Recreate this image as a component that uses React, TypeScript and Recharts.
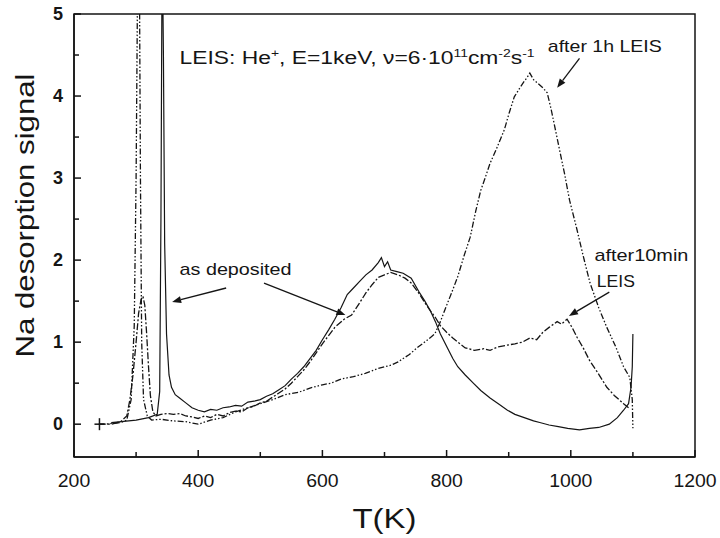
import React from 'react'
import { LineChart, Line, XAxis, YAxis, ReferenceArea, ReferenceLine, ReferenceDot } from 'recharts'

// T (K), Na desorption signal
const asDeposited: [number, number][] = [
  [260, 0.02], [300, 0.05], [320, 0.08], [334, 0.12], [338, 0.4], [340, 2.5], [342, 6], [344, 4.5], [346, 2.2],
  [349, 1.1], [353, 0.6], [357, 0.45], [363, 0.36], [370, 0.32], [380, 0.26], [390, 0.2], [400, 0.17], [410, 0.15],
  [420, 0.18], [430, 0.17], [440, 0.2], [450, 0.21], [460, 0.23], [470, 0.22], [480, 0.27], [490, 0.28], [500, 0.3],
  [510, 0.34], [520, 0.37], [530, 0.42], [540, 0.47], [550, 0.55], [560, 0.62], [570, 0.7], [580, 0.8], [590, 0.9],
  [600, 1.03], [610, 1.15], [620, 1.28], [630, 1.42], [640, 1.58], [650, 1.66], [660, 1.74], [670, 1.82], [680, 1.88],
  [690, 1.97], [695, 2.03], [700, 1.92], [705, 1.98], [710, 1.88], [720, 1.86], [730, 1.84], [743, 1.78], [755, 1.62],
  [765, 1.5], [774, 1.38], [782, 1.25], [790, 1.1], [802, 0.92], [810, 0.8], [818, 0.7], [830, 0.6], [843, 0.5],
  [855, 0.41], [870, 0.32], [885, 0.24], [898, 0.17], [910, 0.12], [925, 0.08], [940, 0.04], [950, 0.02], [965, -0.01],
  [980, -0.03], [995, -0.05], [1014, -0.07], [1030, -0.05], [1045, -0.04], [1062, 0], [1075, 0.08], [1085, 0.17],
  [1093, 0.25], [1097, 0.45], [1099, 0.7], [1100, 1.1],
]

const after10min: [number, number][] = [
  [240, 0], [260, 0], [275, 0.03], [285, 0.1], [290, 0.3], [295, 0.6], [300, 1.0], [304, 1.35], [308, 1.52], [311, 1.56],
  [314, 1.45], [317, 1.1], [320, 0.7], [323, 0.35], [327, 0.15], [332, 0.1], [340, 0.12], [350, 0.13], [360, 0.12],
  [370, 0.13], [380, 0.1], [390, 0.09], [400, 0.07], [410, 0.1], [420, 0.08], [430, 0.12], [440, 0.1], [450, 0.14],
  [460, 0.16], [470, 0.15], [480, 0.2], [490, 0.22], [500, 0.26], [510, 0.28], [520, 0.33], [530, 0.38], [540, 0.43],
  [550, 0.5], [560, 0.58], [570, 0.66], [580, 0.76], [590, 0.87], [600, 0.98], [610, 1.08], [620, 1.18], [635, 1.28],
  [647, 1.33], [660, 1.48], [670, 1.6], [680, 1.7], [690, 1.79], [700, 1.82], [710, 1.85], [722, 1.82], [733, 1.78],
  [743, 1.72], [755, 1.6], [765, 1.48], [774, 1.38], [782, 1.3], [790, 1.2], [800, 1.12], [810, 1.05], [818, 1.0],
  [830, 0.93], [845, 0.9], [860, 0.92], [870, 0.9], [882, 0.94], [895, 0.96], [910, 0.98], [922, 1.0], [934, 1.05],
  [945, 1.03], [955, 1.12], [965, 1.18], [978, 1.25], [985, 1.22], [994, 1.28], [1002, 1.18], [1010, 1.06], [1020, 0.93],
  [1030, 0.78], [1044, 0.62], [1058, 0.45], [1070, 0.35], [1085, 0.25], [1093, 0.2],
]

const after1h: [number, number][] = [
  [240, 0], [250, 0], [262, 0.01], [275, 0.02], [285, 0.05], [292, 0.3], [297, 1.2], [300, 3.0], [303, 6], [305, 6],
  [307, 3.0], [309, 1.0], [312, 0.3], [318, 0.1], [325, 0.05], [340, 0.06], [360, 0.04], [380, 0.03],
  [400, 0.0], [420, 0.05], [440, 0.08], [460, 0.15], [480, 0.2], [500, 0.25], [520, 0.3], [540, 0.36], [562, 0.39],
  [580, 0.44], [600, 0.48], [614, 0.5], [630, 0.55], [650, 0.58], [669, 0.62], [690, 0.68], [711, 0.72], [722, 0.76],
  [740, 0.85], [754, 0.94], [768, 1.02], [781, 1.1], [790, 1.25], [797, 1.39], [808, 1.6], [818, 1.8], [828, 2.05],
  [838, 2.28], [847, 2.6], [855, 2.85], [862, 3.0], [870, 3.18], [880, 3.35], [893, 3.59], [901, 3.8], [909, 3.99],
  [918, 4.1], [925, 4.18], [930, 4.23], [934, 4.28], [940, 4.2], [946, 4.16], [955, 4.1], [962, 4.04], [968, 3.85],
  [973, 3.67], [982, 3.34], [990, 3.05], [998, 2.73], [1010, 2.37], [1020, 2.05], [1031, 1.72], [1045, 1.42],
  [1058, 1.18], [1072, 0.95], [1085, 0.7], [1095, 0.57], [1099, 0.3], [1100, -0.05],
]

const xTicks = [200, 300, 400, 500, 600, 700, 800, 900, 1000, 1100, 1200]
const yTicks = [0, 0.5, 1, 1.5, 2, 2.5, 3, 3.5, 4, 4.5, 5]

// annotation arrows: [fromT, fromV, tipT, tipV]
const arrows: [number, number, number, number][] = [
  [1014, 4.46, 978, 4.1],
  [445, 1.66, 358, 1.49],
  [506, 1.72, 637, 1.33],
  [1062, 1.61, 997, 1.32],
]

const toPts = (d: [number, number][]) => d.map(([T, v]) => ({ T, v }))

const ink = '#151515'
const font = '"Liberation Sans", Arial, sans-serif'

const XTick = (p: any) => {
  const major = p.payload.value % 200 === 0
  const s = String(p.payload.value)
  return (
    <g>
      <line x1={p.x} x2={p.x} y1={p.y} y2={p.y - (major ? 7 : 5)} stroke={ink} strokeWidth={1.5} />
      {major && (
        <text
          x={p.x}
          y={p.y + 30}
          textAnchor="middle"
          fontSize={18}
          textLength={s.length * 10.8}
          lengthAdjust="spacingAndGlyphs"
          fill={ink}
          fontFamily={font}
        >
          {s}
        </text>
      )}
    </g>
  )
}

const YTick = (p: any) => {
  const major = Number.isInteger(p.payload.value)
  return (
    <g>
      <line x1={p.x} x2={p.x + (major ? 7 : 5)} y1={p.y} y2={p.y} stroke={ink} strokeWidth={1.5} />
      {major && (
        <text x={p.x - 11} y={p.y + 6} textAnchor="end" fontSize={18} fontWeight="bold" fill={ink} fontFamily={font}>
          {p.payload.value}
        </text>
      )}
    </g>
  )
}

const Arrow = (p: any) => {
  const { x1, y1, x2, y2 } = p
  const a = Math.atan2(y2 - y1, x2 - x1)
  const L = 9
  const W = 3.5
  const bx = x2 - L * Math.cos(a)
  const by = y2 - L * Math.sin(a)
  const pts = `${x2},${y2} ${bx - W * Math.sin(a)},${by + W * Math.cos(a)} ${bx + W * Math.sin(a)},${by - W * Math.cos(a)}`
  return (
    <g>
      <line x1={x1} y1={y1} x2={bx} y2={by} stroke={ink} strokeWidth={1.3} />
      <polygon points={pts} fill={ink} />
    </g>
  )
}

const textAt = (content: React.ReactNode, size: number, width: number) => (p: any) => (
  <text
    x={p.cx}
    y={p.cy}
    fontSize={size}
    textLength={width}
    lengthAdjust="spacingAndGlyphs"
    fill={ink}
    fontFamily={font}
  >
    {content}
  </text>
)

const Plus = (p: any) => (
  <g stroke={ink} strokeWidth={1.5}>
    <line x1={p.cx - 5} x2={p.cx + 5} y1={p.cy} y2={p.cy} />
    <line x1={p.cx} x2={p.cx} y1={p.cy - 6} y2={p.cy + 6} />
  </g>
)

const YTitle = (p: any) => {
  const vb = p.viewBox
  const cx = vb.x + 25
  const cy = vb.y + vb.height / 2 - 20
  return (
    <text
      x={cx}
      y={cy}
      transform={`rotate(-90 ${cx} ${cy})`}
      textAnchor="middle"
      dominantBaseline="central"
      fontSize={25}
      textLength={284}
      lengthAdjust="spacingAndGlyphs"
      fill={ink}
      fontFamily={font}
    >
      Na desorption signal
    </text>
  )
}

const XTitle = (p: any) => {
  const vb = p.viewBox
  return (
    <text
      x={vb.x + vb.width / 2}
      y={528}
      textAnchor="middle"
      fontSize={27}
      textLength={64}
      lengthAdjust="spacingAndGlyphs"
      fill={ink}
      fontFamily={font}
    >
      T(K)
    </text>
  )
}

const sup = { fontSize: 11 }

export default function App() {
  return (
    <div style={{ position: 'absolute', left: 0, top: 0, width: 720, height: 538, background: '#fff' }}>
      <LineChart width={720} height={538} margin={{ top: 14, right: 25, bottom: 0, left: 0 }}>
        <XAxis
          type="number"
          dataKey="T"
          domain={[200, 1200]}
          ticks={xTicks}
          interval={0}
          height={81}
          tickSize={0}
          tickMargin={0}
          tick={<XTick />}
          axisLine={{ stroke: ink, strokeWidth: 1.5 }}
          label={<XTitle />}
        />
        <YAxis
          type="number"
          domain={[-0.4, 5]}
          allowDataOverflow
          ticks={yTicks}
          interval={0}
          width={74}
          tickSize={0}
          tickMargin={0}
          tick={<YTick />}
          axisLine={{ stroke: ink, strokeWidth: 1.5 }}
          label={<YTitle />}
        />
        <ReferenceArea x1={200} x2={1200} y1={-0.4} y2={5} fill="none" stroke={ink} strokeWidth={1.5} />
        <Line data={toPts(asDeposited)} dataKey="v" type="linear" stroke={ink} strokeWidth={1.2} dot={false} isAnimationActive={false} />
        <Line data={toPts(after10min)} dataKey="v" type="linear" stroke={ink} strokeWidth={1.3} strokeDasharray="7 2 2 2" dot={false} isAnimationActive={false} />
        <Line data={toPts(after1h)} dataKey="v" type="linear" stroke={ink} strokeWidth={1.3} strokeDasharray="6 2 1.5 2 1.5 2" dot={false} isAnimationActive={false} />
        {arrows.map(([a, b, c, d], i) => (
          <ReferenceLine key={i} segment={[{ x: a, y: b }, { x: c, y: d }]} shape={<Arrow />} />
        ))}
        <ReferenceDot x={241} y={0} r={0} shape={<Plus />} />
        <ReferenceDot
          x={370}
          y={4.39}
          r={0}
          shape={textAt(
            <>
              LEIS: He<tspan dy={-7} style={sup}>+</tspan>
              <tspan dy={7}>, E=1keV, ν=6·10</tspan>
              <tspan dy={-7} style={sup}>11</tspan>
              <tspan dy={7}>cm</tspan>
              <tspan dy={-7} style={sup}>-2</tspan>
              <tspan dy={7}>s</tspan>
              <tspan dy={-7} style={sup}>-1</tspan>
            </>,
            18,
            355
          )}
        />
        <ReferenceDot x={963} y={4.54} r={0} shape={textAt('after 1h LEIS', 17, 114)} />
        <ReferenceDot x={1038} y={1.99} r={0} shape={textAt('after10min', 17, 94)} />
        <ReferenceDot x={1042} y={1.67} r={0} shape={textAt('LEIS', 17, 38)} />
        <ReferenceDot x={370} y={1.82} r={0} shape={textAt('as deposited', 17, 112)} />
      </LineChart>
    </div>
  )
}
